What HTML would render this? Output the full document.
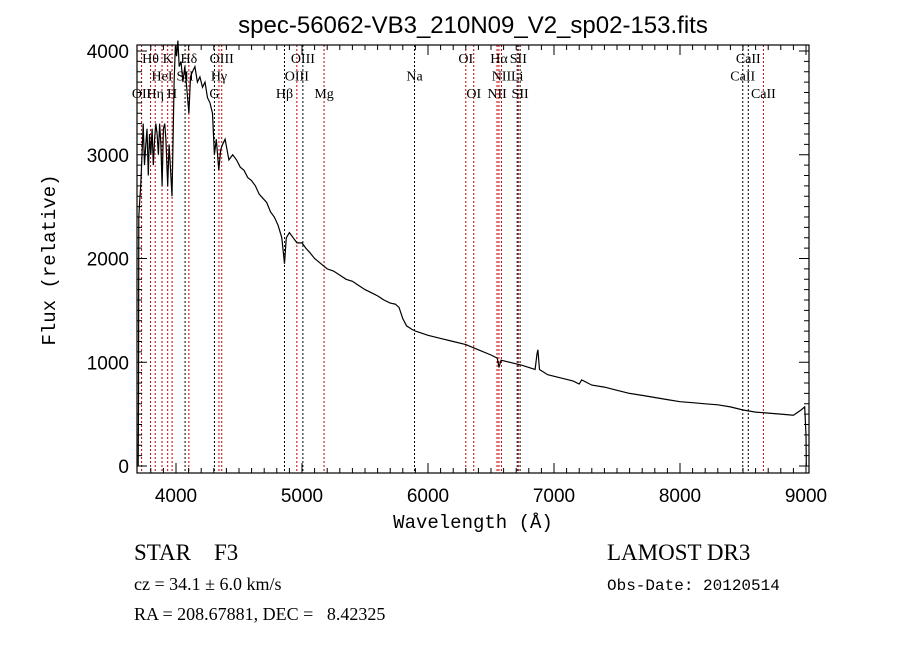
<!DOCTYPE html>
<html><head><meta charset="utf-8"><style>
html,body{margin:0;padding:0;background:#fff;width:900px;height:649px;overflow:hidden}
svg{display:block}
.t{font-family:"Liberation Sans",sans-serif}
.s{font-family:"Liberation Serif",serif}
.m{font-family:"Liberation Mono",monospace}
</style></head><body>
<svg id="c" width="900" height="649" xmlns="http://www.w3.org/2000/svg">
<text class="t" x="473" y="33" font-size="24" text-anchor="middle">spec-56062-VB3_210N09_V2_sp02-153.fits</text>
<g id="lines"></g>
<g id="labels"></g>
<path id="spec" fill="none" stroke="#000" stroke-width="1.2"/>
<rect x="137" y="45" width="672" height="428" fill="none" stroke="#000" stroke-width="1.2"/>
<g id="ticks"></g>
<text class="m" x="473" y="528" font-size="19" text-anchor="middle">Wavelength (Å)</text>
<text class="m" x="55" y="260" font-size="19" text-anchor="middle" transform="rotate(-90 55 260)">Flux (relative)</text>
<text class="s" x="134" y="560" font-size="23">STAR&#160;&#160;&#160;&#160;F3</text>
<text class="s" x="134" y="590" font-size="18">cz = 34.1 ± 6.0 km/s</text>
<text class="s" x="134" y="620" font-size="18">RA = 208.67881, DEC =&#160;&#160;&#160;8.42325</text>
<text class="s" x="607" y="560" font-size="23">LAMOST DR3</text>
<text class="m" x="607" y="590" font-size="16">Obs-Date: 20120514</text>
</svg>
<script>
const waves=[3700,3702,3705,3712,3720,3730,3740,3750,3760,3770,3780,3790,3800,3810,3820,3830,3840,3850,3860,3870,3880,3890,3900,3910,3920,3934,3945,3955,3968,3975,3985,3995,4005,4015,4025,4040,4055,4070,4085,4102,4115,4130,4150,4170,4190,4210,4230,4250,4270,4290,4305,4320,4340,4355,4370,4390,4420,4450,4480,4510,4540,4570,4600,4630,4660,4690,4720,4750,4780,4810,4840,4861,4875,4900,4930,4960,5000,5030,5060,5100,5150,5200,5250,5300,5350,5400,5450,5500,5550,5600,5650,5700,5740,5770,5800,5830,5870,5900,5950,6000,6100,6200,6300,6400,6500,6550,6563,6580,6650,6750,6850,6865,6872,6885,6950,7050,7150,7200,7220,7300,7400,7500,7600,7700,7800,7900,8000,8100,8200,8300,8400,8500,8600,8700,8800,8900,8960,8990,9000,9002];
const fluxes=[0,600,2400,2550,2700,3000,3300,2900,3100,3250,2800,3200,3000,3250,2900,3150,3300,3200,3000,3300,3100,2700,3250,3300,3150,2700,3100,2900,2600,3000,3700,4050,3950,4100,3850,3900,3700,3850,3650,3400,3750,3800,3850,3700,3750,3650,3700,3550,3500,3400,3000,3150,2850,3050,3100,3150,2950,3000,2950,2880,2850,2780,2750,2700,2620,2580,2540,2450,2400,2320,2200,1950,2200,2250,2200,2150,2150,2100,2060,2000,1950,1900,1880,1840,1800,1780,1740,1700,1670,1640,1600,1570,1560,1530,1420,1350,1320,1300,1280,1260,1230,1200,1170,1120,1070,1040,950,1020,1000,970,930,1080,1120,930,880,850,820,790,830,780,760,730,700,680,660,640,620,610,600,590,570,540,520,510,500,490,540,570,300,0];
const lineWaves=[3727,3798,3835,3889,3934,3969,4072,4102,4305,4341,4363,4861,4959,5007,5175,5893,6300,6363,6548,6563,6583,6708,6717,6731,8498,8542,8662];
const lineRed=[1,1,1,1,1,1,0,1,0,1,1,0,1,0,1,0,1,1,1,1,1,0,1,0,0,0,1];
const labelText=["OII","Hθ","Hη","HeI","K","H","SII","Hδ","G","Hγ","OIII","Hβ","OIII","OIII","Mg","Na","OI","OI","NII","Hα","NII","Li","SII","SII","CaII","CaII","CaII"];
const labelRow=[2,0,2,1,0,2,1,0,2,1,0,2,1,0,2,1,0,2,2,0,1,1,0,2,1,0,2];
const xTicks=[4000,5000,6000,7000,8000,9000];
const yTicks=[0,1000,2000,3000,4000];
const NS="http://www.w3.org/2000/svg";
const X=w=>176+(w-4000)*0.126, Y=f=>466-f*0.10375;
function mk(t,a,p){const e=document.createElementNS(NS,t);for(const k in a)e.setAttribute(k,a[k]);p.appendChild(e);return e;}
let d="";waves.forEach((w,i)=>{d+=(i?"L":"M")+X(w).toFixed(1)+","+Y(Math.max(fluxes[i],-60)).toFixed(1);});
document.getElementById("spec").setAttribute("d",d);
const L=document.getElementById("lines"),LB=document.getElementById("labels"),T=document.getElementById("ticks");
lineWaves.forEach((w,i)=>{
 const l=mk("line",{x1:X(w),x2:X(w),y1:45,y2:473,stroke:lineRed[i]?"#c00000":"#000","stroke-width":1,"stroke-dasharray":"2,2"},L);
 
 
 const t=mk("text",{x:X(w),y:63+labelRow[i]*17.5,"font-size":14,"text-anchor":"middle","class":"s"},LB);
 t.textContent=labelText[i];
 
 
});
for(let w=3800;w<=9000;w+=100){const mj=w%1000==0,x=X(w);
 mk("line",{x1:x,x2:x,y1:473,y2:473-(mj?10:5),stroke:"#000"},T);mk("line",{x1:x,x2:x,y1:45,y2:45+(mj?10:5),stroke:"#000"},T);}
for(let f=0;f<=4000;f+=100){const mj=f%1000==0,y=Y(f);
 mk("line",{x1:137,x2:137+(mj?10:5),y1:y,y2:y,stroke:"#000"},T);mk("line",{x1:809,x2:809-(mj?10:5),y1:y,y2:y,stroke:"#000"},T);}
xTicks.forEach(w=>{const t=mk("text",{x:X(w),y:502,"font-size":19,"text-anchor":"middle","class":"t"},T);t.textContent=w;
 
 });
yTicks.forEach(f=>{const t=mk("text",{x:129,y:Y(f)+7,"font-size":19,"text-anchor":"end","class":"t"},T);t.textContent=f;
 
 });
</script>
</body></html>
